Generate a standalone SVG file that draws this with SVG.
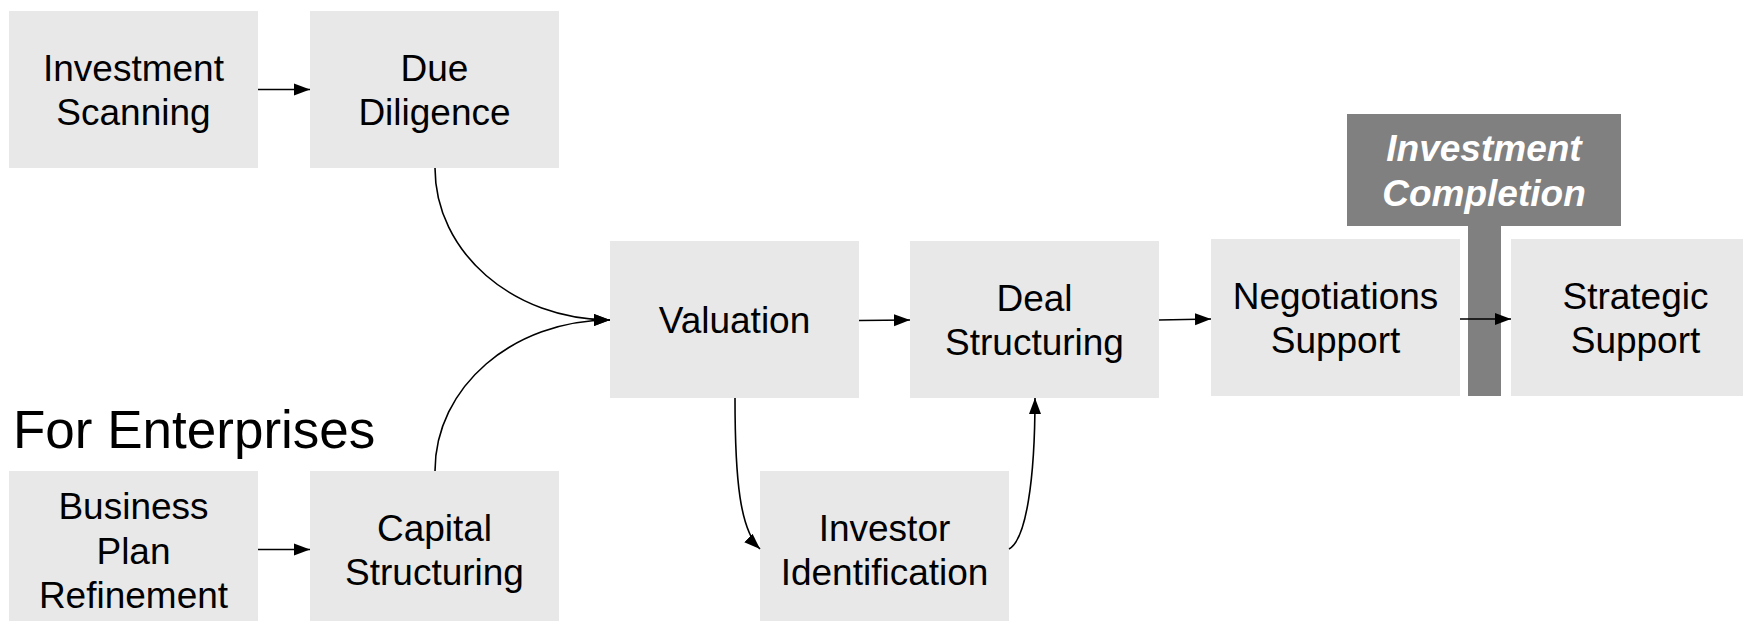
<svg xmlns="http://www.w3.org/2000/svg" width="1743" height="621" viewBox="0 0 1743 621">
<defs>
<style>
.box{fill:#e8e8e8;}
.dark{fill:#808080;}
.t{font-family:"Liberation Sans",Arial,sans-serif;font-size:37px;fill:#000;text-anchor:middle;}
.tw{font-family:"Liberation Sans",Arial,sans-serif;font-size:37px;fill:#fff;font-weight:bold;font-style:italic;text-anchor:middle;}
.c{fill:none;stroke:#000;stroke-width:1.6;marker-end:url(#arr);}
</style>
<marker id="arr" markerUnits="userSpaceOnUse" markerWidth="17" markerHeight="14" refX="16" refY="7" orient="auto">
<path d="M0,1 L16,7 L0,13 z" fill="#000"/>
</marker>
</defs>
<rect width="1743" height="621" fill="#fff"/>
<g id="investment-completion">
<rect class="dark" x="1347" y="114" width="274" height="112"/>
<rect class="dark" x="1468" y="226" width="33" height="170"/>
<text class="tw" x="1484" y="161">Investment</text>
<text class="tw" x="1484" y="206">Completion</text>
</g>
<g id="investment-scanning">
<rect class="box" x="9" y="11" width="249" height="157"/>
<text class="t" x="133.5" y="80.5">Investment</text>
<text class="t" x="133.5" y="125">Scanning</text>
</g>
<g id="due-diligence">
<rect class="box" x="310" y="11" width="249" height="157"/>
<text class="t" x="434.5" y="80.5">Due</text>
<text class="t" x="434.5" y="125">Diligence</text>
</g>
<g id="valuation">
<rect class="box" x="610" y="241" width="249" height="157"/>
<text class="t" x="734.5" y="332.5">Valuation</text>
</g>
<g id="deal-structuring">
<rect class="box" x="910" y="241" width="249" height="157"/>
<text class="t" x="1034.5" y="310.5">Deal</text>
<text class="t" x="1034.5" y="355">Structuring</text>
</g>
<g id="negotiations-support">
<rect class="box" x="1211" y="239" width="249" height="157"/>
<text class="t" x="1335.5" y="308.5">Negotiations</text>
<text class="t" x="1335.5" y="353">Support</text>
</g>
<g id="strategic-support">
<rect class="box" x="1511" y="239" width="249" height="157"/>
<text class="t" x="1635.5" y="308.5">Strategic</text>
<text class="t" x="1635.5" y="353">Support</text>
</g>
<g id="for-enterprises">
<text x="13" y="448" font-family="'Liberation Sans',Arial,sans-serif" font-size="53" fill="#000">For Enterprises</text>
</g>
<g id="business-plan-refinement">
<rect class="box" x="9" y="471" width="249" height="157"/>
<text class="t" x="133.5" y="519">Business</text>
<text class="t" x="133.5" y="563.5">Plan</text>
<text class="t" x="133.5" y="608">Refinement</text>
</g>
<g id="capital-structuring">
<rect class="box" x="310" y="471" width="249" height="157"/>
<text class="t" x="434.5" y="540.5">Capital</text>
<text class="t" x="434.5" y="585">Structuring</text>
</g>
<g id="investor-identification">
<rect class="box" x="760" y="471" width="249" height="157"/>
<text class="t" x="884.5" y="540.5">Investor</text>
<text class="t" x="884.5" y="585">Identification</text>
</g>
<g id="connectors">
<path class="c" d="M258,89.5 L310,89.5"/>
<path class="c" d="M435,168 C435,252 513,320 610,320"/>
<path class="c" d="M435,471 C435,387 513,320 610,320"/>
<path class="c" d="M859,320.5 L910,320"/>
<path class="c" d="M1159,320 L1211,319"/>
<path class="c" d="M1460,319 L1511,319"/>
<path class="c" d="M735,398 C735,480 740,530 760,549"/>
<path class="c" d="M1009,549 C1026,540 1035,480 1035,398"/>
<path class="c" d="M258,549.5 L310,549.5"/>
</g>
</svg>
